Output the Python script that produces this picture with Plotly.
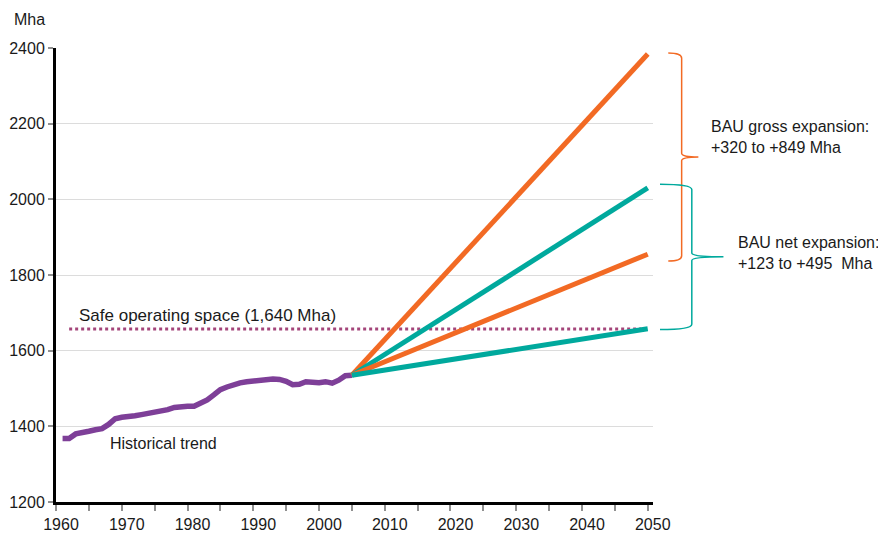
import plotly.graph_objects as go

# ---------------- data ----------------
hist_years = list(range(1961, 2006))
hist_values = [1368, 1368, 1380, 1385, 1387, 1391, 1394, 1405, 1420, 1424,
               1425, 1428, 1431, 1434, 1437, 1440, 1444, 1450, 1453, 1453,
               1453, 1460, 1470, 1483, 1497, 1504, 1511, 1515, 1518, 1520,
               1522, 1524, 1525, 1524, 1519, 1510, 1511, 1518, 1515, 1515,
               1518, 1514, 1522, 1534, 1535]

proj_years = [2005, 2050]
gross_high = [1535, 2384]
net_high = [1535, 2030]
gross_low = [1535, 1855]
net_low = [1535, 1658]

safe_years = [1962, 2049]
safe_values = [1657, 1657]

x_tick_vals = [1960, 1970, 1980, 1990, 2000, 2010, 2020, 2030, 2040, 2050]
x_tick_text = ["1960", "1970", "1980", "1990", "2000", "2010", "2020", "2030", "2040", "2050"]
y_tick_vals = [1200, 1400, 1600, 1800, 2000, 2200, 2400]

PURPLE = "#7E3F98"
ORANGE = "#F26A24"
TEAL = "#00A99D"
SAFE = "#A4457A"
FONT = "Liberation Sans, Arial, sans-serif"

fig = go.Figure()

fig.add_trace(go.Scatter(x=safe_years, y=safe_values, mode="lines",
                         line=dict(color=SAFE, width=3, dash="dot"),
                         hoverinfo="skip", showlegend=False))
fig.add_trace(go.Scatter(x=hist_years, y=hist_values, mode="lines",
                         line=dict(color=PURPLE, width=5.5),
                         showlegend=False))
fig.add_trace(go.Scatter(x=proj_years, y=gross_high, mode="lines",
                         line=dict(color=ORANGE, width=5), showlegend=False))
fig.add_trace(go.Scatter(x=proj_years, y=net_high, mode="lines",
                         line=dict(color=TEAL, width=5), showlegend=False))
fig.add_trace(go.Scatter(x=proj_years, y=gross_low, mode="lines",
                         line=dict(color=ORANGE, width=5), showlegend=False))
fig.add_trace(go.Scatter(x=proj_years, y=net_low, mode="lines",
                         line=dict(color=TEAL, width=5), showlegend=False))


def brace(x0, xv, xt, top, bot, color, d=14, dt=10):
    mid = (top + bot) / 2
    path = (f"M {x0},{top} Q {xv},{top} {xv},{top - d} "
            f"L {xv},{mid + dt} Q {xv},{mid} {xt},{mid} "
            f"Q {xv},{mid} {xv},{mid - dt} "
            f"L {xv},{bot + d} Q {xv},{bot} {x0},{bot}")
    return dict(type="path", path=path, xref="paper", yref="y",
                line=dict(color=color, width=1.5))


fig.add_shape(brace(1.0256, 1.048, 1.076, gross_high[1] + 3, gross_low[1] - 18, ORANGE))
fig.add_shape(brace(1.0117, 1.065, 1.118, net_high[1] + 10, net_low[1] - 2, TEAL))

ann_font = dict(family=FONT, size=16, color="#1a1a1a")
fig.add_annotation(text="Mha", xref="paper", yref="paper", x=-0.074, y=1.062,
                   xanchor="left", yanchor="middle", showarrow=False, font=ann_font)
fig.add_annotation(text="Safe operating space (1,640 Mha)", xref="x", yref="y",
                   x=1963.2, y=1694, xanchor="left", yanchor="middle",
                   showarrow=False, font=dict(family=FONT, size=17, color="#1a1a1a"))
fig.add_annotation(text="Historical trend", xref="x", yref="y",
                   x=1967.9, y=1354, xanchor="left", yanchor="middle",
                   showarrow=False, font=ann_font)
fig.add_annotation(text="BAU gross expansion:<br>+320 to +849 Mha", xref="paper", yref="paper",
                   x=1.094, y=0.803, xanchor="left", yanchor="middle", align="left",
                   showarrow=False, font=ann_font)
fig.add_annotation(text="BAU net expansion:<br>+123 to +495  Mha", xref="paper", yref="paper",
                   x=1.139, y=0.5485, xanchor="left", yanchor="middle", align="left",
                   showarrow=False, font=ann_font)

fig.update_layout(
    width=878, height=540,
    margin=dict(l=56, r=225, t=48, b=38, autoexpand=False),
    paper_bgcolor="white", plot_bgcolor="white",
    font=dict(family=FONT, size=16, color="#1a1a1a"),
    showlegend=False,
)
fig.update_xaxes(range=[1960, 2050.8], tickvals=x_tick_vals, ticktext=x_tick_text,
                 automargin=False,
                 showgrid=False, zeroline=False, showline=True, linecolor="black",
                 linewidth=3, ticks="outside", ticklen=6, tickwidth=2, tickcolor="#909090",
                 ticklabelshift=5,
                 minor=dict(dtick=5, tick0=1960, ticks="outside", ticklen=6, tickwidth=2,
                            tickcolor="#909090", showgrid=False),
                 tickfont=dict(family=FONT, size=16, color="#1a1a1a"))
fig.update_yaxes(range=[1200, 2400], tickvals=y_tick_vals, showgrid=True,
                 automargin=False,
                 gridcolor="#DCDCDC", gridwidth=1, zeroline=False, showline=True,
                 linecolor="black", linewidth=3, ticks="outside", ticklen=5, tickwidth=2,
                 tickcolor="#909090",
                 tickfont=dict(family=FONT, size=16, color="#1a1a1a"))

fig.write_html(
    "out.html",
    config={"displayModeBar": False},
    post_script="document.body.style.margin='0';document.body.style.overflow='hidden';",
)
